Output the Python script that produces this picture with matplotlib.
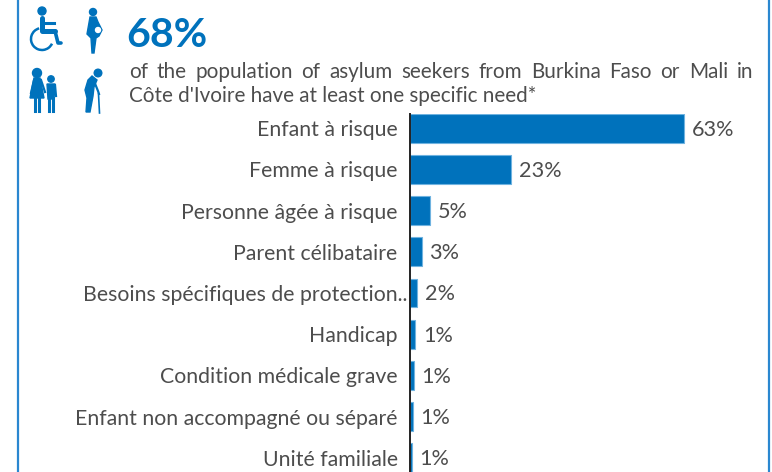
import matplotlib
matplotlib.use('Agg')
import matplotlib.pyplot as plt
from matplotlib.patches import Circle, Polygon, Arc
from matplotlib.transforms import ScaledTranslation

categories = ['Enfant à risque', 'Femme à risque', 'Personne âgée à risque',
              'Parent célibataire', 'Besoins spécifiques de protection..',
              'Handicap', 'Condition médicale grave',
              'Enfant non accompagné ou séparé', 'Unité familiale']
values = [62.8, 23.2, 4.7, 2.8, 1.8, 1.3, 1.0, 0.8, 0.5]
value_labels = ['63%', '23%', '5%', '3%', '2%', '1%', '1%', '1%', '1%']

headline = '68%'
line1 = 'of the population of asylum seekers from Burkina Faso or Mali in'
line2 = "Côte d'Ivoire have at least one specific need*"

BLUE = '#0072BC'
GREY = '#4d4d4d'
plt.rcParams['font.family'] = ['Lato', 'DejaVu Sans']

fig = plt.figure(figsize=(7.72, 4.72), dpi=100)

# overlay in pixel coordinates for frame, icons and header
bg = fig.add_axes([0, 0, 1, 1])
bg.set_xlim(0, 772)
bg.set_ylim(472, 0)
bg.axis('off')

bg.plot([18, 18], [0, 472], color='#2a87d0', lw=1.6)
bg.plot([769, 769], [0, 472], color='#2a87d0', lw=1.6)

# wheelchair
bg.add_patch(Circle((42, 11), 4, color=BLUE))
bg.plot([42, 42, 55], [18, 31, 31], color=BLUE, lw=3.6, solid_capstyle='round')
bg.plot([42, 54], [23, 23], color=BLUE, lw=2.2)
bg.plot([55, 58, 61], [31, 43, 43], color=BLUE, lw=2.6, solid_capstyle='round')
bg.add_patch(Arc((42, 39), 22, 22, theta1=25, theta2=255, color=BLUE, lw=1.8))

# pregnant woman
bg.add_patch(Circle((93, 12), 3.5, color=BLUE))
bg.add_patch(Polygon([(90, 17), (96, 17), (98, 22), (102, 30), (99, 36), (96, 38),
                      (94, 53), (92, 53), (91, 38), (87, 34)], color=BLUE))
bg.add_patch(Circle((98, 30), 2.5, color='white'))

# woman and child
bg.add_patch(Circle((37, 73), 4.5, color=BLUE))
bg.add_patch(Polygon([(34, 78), (40, 78), (44, 98), (30, 98)], color=BLUE))
bg.plot([35, 35], [98, 111], color=BLUE, lw=2.2)
bg.plot([39, 39], [98, 111], color=BLUE, lw=2.2)
bg.plot([34, 31], [80, 93], color=BLUE, lw=1.6)
bg.plot([41, 45], [80, 92], color=BLUE, lw=1.6)
bg.add_patch(Circle((51, 79), 3.2, color=BLUE))
bg.add_patch(Polygon([(47, 84), (55, 84), (54, 99), (48, 99)], color=BLUE))
bg.plot([49, 49], [98, 111], color=BLUE, lw=2.2)
bg.plot([53, 53], [98, 111], color=BLUE, lw=2.2)
bg.plot([55, 56], [85, 96], color=BLUE, lw=1.6)

# elderly person with cane
bg.add_patch(Circle((98, 73), 3.8, color=BLUE))
bg.add_patch(Polygon([(92, 76), (88, 80), (85, 90), (87, 98), (86, 112), (90, 112),
                      (93, 96), (94, 87), (97, 80)], color=BLUE))
bg.plot([94, 98, 99], [81, 91, 94], color=BLUE, lw=1.6)
bg.plot([98.5, 99.5], [94, 113], color=BLUE, lw=1.2)

bg.text(126, 47, headline, color=BLUE, fontsize=29.5, fontweight='bold', va='baseline', ha='left')


def justified(ax, text, x0, x1, y, size):
    # spread the words over the full width of the column
    words = text.split(' ')
    r = fig.canvas.get_renderer()
    items = [ax.text(0, y, w, color=GREY, fontsize=size, va='baseline', ha='left') for w in words]
    widths = [t.get_window_extent(r).width for t in items]
    gap = (x1 - x0 - sum(widths)) / (len(words) - 1)
    x = x0
    for t, w in zip(items, widths):
        t.set_x(x)
        x += w + gap


justified(bg, line1, 129, 753, 77.5, 14.85)
bg.text(129, 101.7, line2, color=GREY, fontsize=14.85, va='baseline', ha='left')

# bars
ax = fig.add_axes([409.5 / 772, 0, (772 - 409.5) / 772, (472 - 114) / 472])
ax.patch.set_alpha(0)
ypos = list(range(len(categories)))
ax.barh(ypos, values, height=0.70, color=BLUE, edgecolor='#6fb3e0', linewidth=0.8)
ax.set_xlim(0, 362.5 / 4.37)
ax.set_ylim((472 - 128.2) / 41.2, -14.2 / 41.2)
ax.set_yticks(ypos)
ax.set_yticklabels(categories, fontsize=15.35, color=GREY)
ax.tick_params(axis='y', length=0, pad=8.5)
ax.set_xticks([])
for s in ['top', 'right', 'bottom']:
    ax.spines[s].set_visible(False)
ax.spines['left'].set_color('#222222')
ax.spines['left'].set_linewidth(1.4)

# the truncated label runs up to the axis line in the original
lab = ax.get_yticklabels()[4]
lab.set_transform(lab.get_transform() + ScaledTranslation(10 / 100, 0, fig.dpi_scale_trans))

for y, v, lab in zip(ypos, values, value_labels):
    ax.annotate(lab, (v, y), xytext=(5.5, -1), textcoords='offset points',
                va='center', ha='left', fontsize=15.6, color=GREY)

fig.savefig('out.png', dpi=100)
